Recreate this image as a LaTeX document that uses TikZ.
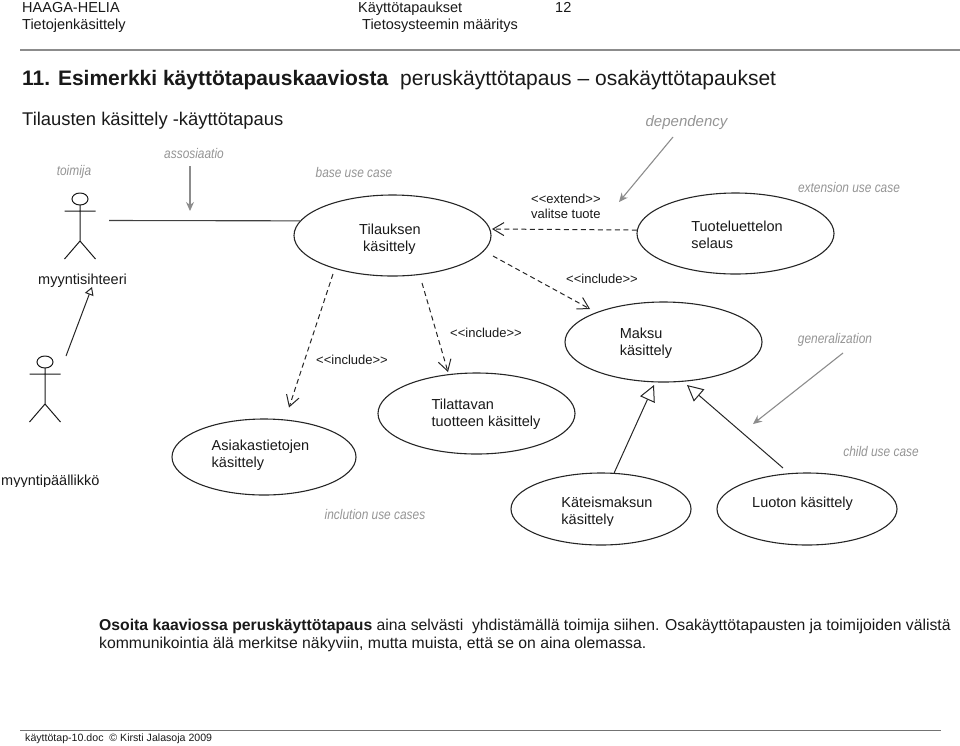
\documentclass[tikz,border=0pt]{standalone}
\usepackage{fontspec}
\setmainfont{Liberation Sans}
\newfontfamily\notefont[FakeStretch=0.85]{Liberation Sans}
\usetikzlibrary{arrows.meta, shapes.geometric}
\tikzset{
  usecase/.style={ellipse,draw=black!85,line width=1.1pt,inner sep=0pt,minimum width=#1},
  casetext/.style={align=left,inner sep=0pt,font=\fontsize{14.5}{17}\selectfont,text=black!90},
  plain/.style={anchor=base west,inner sep=0pt,font=\fontsize{14.5}{17.5}\selectfont,text=black!90},
  deplabel/.style={plain,font=\fontsize{13}{15}\selectfont},
  note/.style={inner sep=0pt,font=\fontsize{14}{17}\notefont\itshape,text=black!42},
  notearrow/.style={draw=black!45,line width=1.1pt,-{Stealth[length=9pt,width=8pt]}},
  dep/.style={draw=black!85,line width=1pt,dash pattern=on 5pt off 3.5pt,-{Straight Barb[length=11pt,width=13pt]}},
  gen/.style={draw=black!85,line width=1pt,-{Triangle[open,fill=white,length=16pt,width=16pt]}},
  rulerline/.style={draw=black!45,line width=1.2pt},
}
\begin{document}
\begin{tikzpicture}[x=1pt,y=-1pt,actor/.pic={
    \draw[black!90,line width=1pt] (0,-21) ellipse (8 and 6);
    \draw[black!90,line width=1pt] (-15.5,-9) -- (15.5,-9) (0,-15) -- (0,21) (-15.5,39) -- (0,21) -- (15.5,39);}]
  \useasboundingbox (0,0) rectangle (960,745);
  % page header
  \node[plain] (org) at (22,12) {HAAGA-HELIA};
  \node[plain] (dept) at (22,29.3) {Tietojenkäsittely};
  \node[plain] (doc) at (358,12) {Käyttötapaukset};
  \node[plain] (course) at (362,29.3) {Tietosysteemin määritys};
  \node[plain] (page) at (555,12) {12};
  \coordinate (headA) at (20,50);
  \coordinate (headB) at (960,50);
  \draw[rulerline] (headA) -- (headB);
  \node[plain,font=\fontsize{21}{25}\selectfont] (title) at (22,85) {\textbf{11. Esimerkki käyttötapauskaaviosta}\ \ peruskäyttötapaus – osakäyttötapaukset};
  \node[plain,font=\fontsize{18.4}{22}\selectfont] (subtitle) at (22,125) {Tilausten käsittely -käyttötapaus};
  % actors
  \pic at (80,220) {actor};
  \pic at (45,383) {actor};
  \node[plain] (sihteeri) at (38,284) {myyntisihteeri};
  \begin{scope}
    \clip (0,470) rectangle (120,486.8);
    \node[plain] (paallikko) at (1,485.7) {myyntipäällikkö};
  \end{scope}
  % use cases
  \node[usecase=197pt,minimum height=81pt] (tilaus) at (392.5,235.5) {};
  \node[usecase=197pt,minimum height=81pt] (tuote) at (735.5,233.5) {};
  \node[usecase=197pt,minimum height=80pt] (maksu) at (663.5,342) {};
  \node[usecase=184pt,minimum height=76pt] (asiakas) at (264,457) {};
  \node[usecase=197pt,minimum height=81pt] (tilattava) at (476.5,413.5) {};
  \node[usecase=180pt,minimum height=72pt] (kateinen) at (601,509) {};
  \node[usecase=180pt,minimum height=72pt] (luotto) at (807,509) {};
  \node[casetext] (tilausT) at (390,239) {Tilauksen\\\hspace*{4pt}käsittely};
  \node[casetext] (tuoteT) at (737,235) {Tuoteluettelon\\selaus};
  \node[casetext] (maksuT) at (646,343) {Maksu\\käsittely};
  \node[casetext] (asiakasT) at (260.5,455.5) {Asiakastietojen\\käsittely};
  \node[casetext] (tilattavaT) at (486,414.5) {Tilattavan\\tuotteen käsittely};
  \begin{scope}
    \clip (550,490) rectangle (670,525);
    \node[casetext] (kateinenT) at (607,512.5) {Käteismaksun\\käsittely};
  \end{scope}
  \node[plain] (luottoT) at (752,507) {Luoton käsittely};
  % connector labels
  \node[deplabel] (extend) at (531,203) {<{}<extend>{}>};
  \node[deplabel] (valitse) at (531,218) {valitse tuote};
  \node[deplabel] (inclM) at (566,283.5) {<{}<include>{}>};
  \node[deplabel] (inclT) at (450,337.5) {<{}<include>{}>};
  \node[deplabel] (inclA) at (316,364.5) {<{}<include>{}>};
  % connectors, the free ends stop short of the ellipses
  \coordinate (sihteeriEnd) at (109,220.5);
  \draw[black!75,line width=1.1pt] (sihteeriEnd) -- (tilaus.171);
  \coordinate (extendEnd) at (492,229);
  \draw[dep] (tuote.178) -- (extendEnd);
  \coordinate (inclAa) at (333,274);
  \coordinate (inclAb) at (289,407.5);
  \draw[dep] (inclAa) -- (inclAb);
  \coordinate (inclTa) at (422,283);
  \coordinate (inclTb) at (448,372);
  \draw[dep] (inclTa) -- (inclTb);
  \coordinate (inclMa) at (493,256);
  \coordinate (inclMb) at (590,309);
  \draw[dep] (inclMa) -- (inclMb);
  \coordinate (genKa) at (654,385);
  \draw[gen] (kateinen.70) -- (genKa);
  \coordinate (genLa) at (783,468);
  \coordinate (genLb) at (687,385);
  \draw[gen] (genLa) -- (genLb);
  \coordinate (genPa) at (66,356);
  \coordinate (genPb) at (92,287);
  \draw[gen,-{Triangle[open,fill=white,length=8pt,width=9pt]}] (genPa) -- (genPb);
  % grey remarks
  \node[note] (toimija) at (74,172) {toimija};
  \node[note] (assosiaatio) at (194,153) {assosiaatio};
  \node[note] (base) at (354,172) {base use case};
  \node[note,font=\fontsize{15}{18}\selectfont\itshape] (dependency) at (686.5,123) {dependency};
  \begin{scope}
    \clip (780,170) rectangle (920,192);
    \node[note] (extension) at (849,187) {extension use case};
  \end{scope}
  \node[note] (generalization) at (835,340) {generalization};
  \node[note] (child) at (881,451) {child use case};
  \node[note] (inclusion) at (375,514) {inclution use cases};
  \coordinate (assosiaatioA) at (190,166);
  \coordinate (assosiaatioB) at (190,211);
  \draw[notearrow] (assosiaatioA) -- (assosiaatioB);
  \coordinate (dependencyA) at (673,137);
  \coordinate (dependencyB) at (619,202);
  \draw[notearrow] (dependencyA) -- (dependencyB);
  \coordinate (generalizationA) at (843,353);
  \coordinate (generalizationB) at (753,424);
  \draw[notearrow] (generalizationA) -- (generalizationB);
  % footer
  \node[plain,font=\fontsize{15.75}{18}\selectfont] (hint) at (99,630) {\textbf{Osoita kaaviossa peruskäyttötapaus} aina selvästi\ \ yhdistämällä toimija siihen. Osakäyttötapausten ja toimijoiden välistä};
  \node[plain,font=\fontsize{15.75}{18}\selectfont] (hintB) at (99,648) {kommunikointia älä merkitse näkyviin, mutta muista, että se on aina olemassa.};
  \coordinate (footA) at (20,730);
  \coordinate (footB) at (941,730);
  \draw[rulerline,draw=black!55,line width=1pt] (footA) -- (footB);
  \node[plain,font=\fontsize{10.6}{13}\selectfont] (file) at (25,741) {käyttötap-10.doc\ \ © Kirsti Jalasoja 2009};
\end{tikzpicture}
\end{document}
